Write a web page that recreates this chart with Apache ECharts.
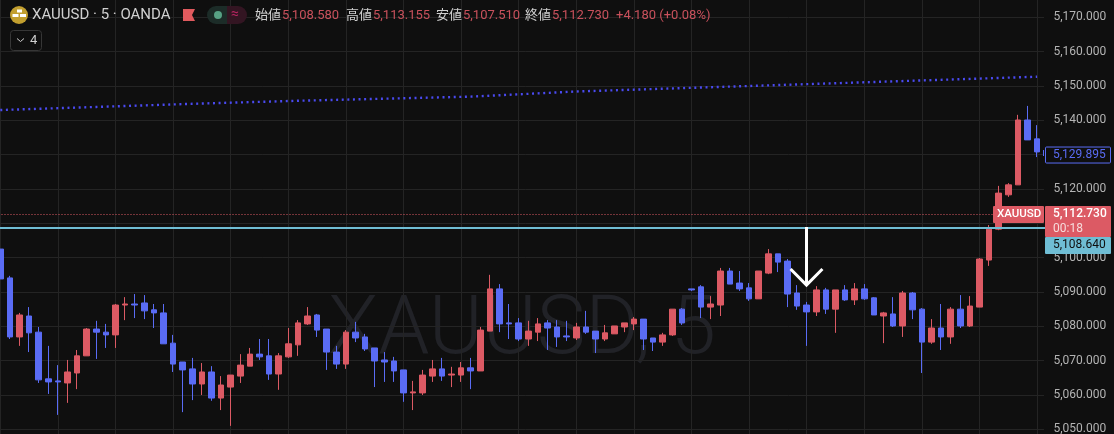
<!DOCTYPE html>
<html><head><meta charset="utf-8">
<style>html,body{margin:0;padding:0;background:#0f0f0f}#c{width:1114px;height:434px}</style>
<script src="https://cdn.jsdelivr.net/npm/echarts@6/dist/echarts.min.js"></script>
</head><body><div id="c"></div>
<script>
const opens=[5102.5,5094.1,5076.9,5083.0,5078.3,5064.7,5064.1,5063.5,5066.4,5071.4,5079.2,5078.3,5077.5,5086.2,5086.5,5086.8,5084.8,5083.9,5075.1,5069.6,5067.6,5063.2,5066.7,5059.1,5062.3,5065.5,5068.4,5071.9,5071.4,5066.1,5071.1,5074.6,5080.7,5083.3,5079.2,5072.5,5069.0,5078.3,5076.9,5073.7,5070.2,5069.9,5067.3,5060.6,5060.6,5065.5,5067.6,5065.8,5065.8,5067.9,5067.0,5078.6,5090.9,5081.0,5081.0,5076.3,5078.3,5081.0,5079.8,5077.2,5076.6,5079.8,5078.6,5076.3,5077.8,5079.8,5080.7,5082.1,5076.6,5075.4,5077.5,5085.0,5090.9,5091.5,5085.6,5086.2,5096.1,5092.6,5091.2,5088.0,5095.5,5101.1,5099.0,5089.7,5086.2,5084.2,5090.6,5085.0,5090.6,5087.7,5090.9,5088.3,5083.0,5083.6,5080.1,5089.7,5085.0,5075.4,5079.5,5076.9,5085.0,5080.1,5085.6,5099.3,5108.3,5118.3,5121.2,5140.1,5134.6];
const closes=[5093.8,5076.9,5083.3,5078.1,5064.4,5063.8,5063.8,5066.7,5071.4,5079.2,5078.3,5077.5,5086.2,5086.5,5086.2,5084.5,5083.9,5074.9,5069.0,5067.3,5063.2,5066.7,5059.1,5062.9,5065.8,5068.7,5071.9,5071.1,5066.1,5071.4,5074.9,5081.0,5083.0,5078.9,5072.5,5069.0,5078.3,5076.6,5073.4,5069.9,5069.6,5067.0,5060.6,5060.9,5065.8,5067.6,5065.5,5066.1,5067.9,5067.0,5078.9,5090.9,5080.7,5080.7,5076.3,5078.6,5080.7,5079.5,5076.9,5076.9,5079.8,5078.3,5076.3,5078.1,5080.1,5081.0,5082.1,5076.3,5075.4,5077.5,5085.0,5081.0,5090.6,5085.6,5086.5,5096.1,5092.3,5090.9,5088.0,5096.1,5101.1,5098.7,5089.4,5085.9,5084.2,5090.6,5085.0,5090.6,5087.7,5090.9,5088.0,5083.3,5083.9,5080.1,5089.7,5084.8,5075.4,5079.5,5076.9,5085.0,5080.1,5085.9,5099.6,5108.3,5118.8,5121.2,5140.1,5134.3,5130.8];
const highs=[5102.5,5094.7,5083.9,5085.6,5079.8,5074.3,5068.7,5070.2,5073.1,5079.5,5081.6,5080.7,5086.5,5088.5,5089.4,5089.1,5086.5,5086.5,5077.5,5069.6,5070.8,5069.3,5068.4,5065.5,5065.8,5071.9,5073.7,5076.3,5076.3,5072.2,5079.5,5081.8,5085.6,5083.6,5079.2,5074.3,5078.9,5081.3,5077.8,5073.7,5072.5,5071.1,5067.3,5064.1,5067.3,5070.2,5070.8,5068.2,5069.6,5070.8,5079.8,5095.0,5092.3,5086.5,5082.4,5081.6,5082.4,5081.8,5081.8,5081.6,5081.0,5084.5,5078.6,5080.4,5080.1,5081.0,5082.7,5082.1,5076.6,5078.1,5085.0,5085.3,5090.9,5092.0,5088.8,5097.0,5097.0,5096.1,5092.6,5096.1,5102.5,5101.1,5099.6,5092.0,5087.1,5091.7,5091.2,5090.6,5092.0,5092.6,5092.3,5088.5,5084.2,5088.5,5090.3,5090.0,5085.3,5082.1,5086.5,5085.6,5089.1,5088.8,5099.9,5109.5,5120.9,5121.7,5141.6,5144.2,5138.6];
const lows=[5093.8,5076.3,5074.3,5072.5,5063.5,5060.3,5054.2,5057.7,5061.7,5071.4,5070.5,5073.7,5073.7,5081.8,5082.4,5082.1,5079.5,5074.9,5066.7,5055.0,5058.5,5060.0,5058.3,5055.6,5051.0,5063.5,5068.4,5070.2,5064.4,5061.5,5070.8,5071.4,5080.4,5076.9,5067.3,5067.6,5067.6,5075.4,5072.8,5062.3,5063.8,5063.8,5058.0,5055.6,5060.0,5063.8,5064.1,5062.3,5063.8,5061.7,5067.0,5078.6,5078.3,5076.3,5075.7,5074.3,5075.7,5073.1,5074.0,5075.7,5076.0,5077.8,5072.2,5075.7,5077.8,5078.3,5078.9,5073.1,5072.8,5074.3,5077.2,5080.4,5090.3,5082.4,5082.1,5083.0,5092.3,5090.3,5087.4,5088.0,5095.2,5095.8,5085.6,5084.8,5074.3,5083.0,5083.6,5078.1,5087.4,5086.2,5087.7,5083.3,5075.1,5079.8,5076.9,5082.1,5066.4,5074.9,5073.1,5074.9,5079.5,5079.8,5085.6,5097.6,5108.0,5117.7,5121.2,5134.3,5129.3];
const barIndex=[...opens.map((_,i)=>String(i)),''];
const dottedBars=[0,10,21,31,49,60,78,108];
const dottedValues=[5143.0,5143.9,5144.9,5145.7,5146.9,5148.4,5150.0,5152.7];
const lastPrice=5112.73, levelPrice=5108.64, maPrice=5129.895;
const arrowBar=84, arrowTip=5092.0, arrowHeadBack=5096.7;
const headerValues=['5,108.580','5,113.155','5,107.510','5,112.730'];
const headerNames=['始値','高値','安値','終値'];

const BG='#0f0f0f',GRID='#242424',RED='#dc5a64',BLUE='#5a6cf5',CYAN='#6fbdd4',TXT='#b4b4b4',HEAD='#d0d0d0',VAL='#c9515c';
const SANS='Roboto, "Noto Sans CJK JP", sans-serif';
const BAR=9.6, LEFT=0.3-BAR/2;
const PPU=34.33/10, Y5050=429.3;
const fmt=v=>v.toFixed(3).replace(/\B(?=(\d{3})(?!\d))(?=.*\.)/,',');

const txt=(text,x,y,fill,size,extra)=>Object.assign({type:'text',x:x,y:y,z:30,silent:true,
  style:{text:text,fill:fill,font:`${size}px ${SANS}`,textVerticalAlign:'middle',verticalAlign:'middle'}},extra||{});
const headerEls=[
 {type:'rect',z:5,silent:true,shape:{x:1044,y:0,width:70,height:434},style:{fill:BG}},
 {type:'circle',z:30,silent:true,shape:{cx:19,cy:15,r:9},style:{fill:'#c29f2f'}},
 {type:'rect',z:31,silent:true,shape:{x:17,y:9.5,width:5,height:3},style:{fill:'#fff'}},
 {type:'rect',z:31,silent:true,shape:{x:12.5,y:14,width:6,height:3},style:{fill:'#fff'}},
 {type:'rect',z:31,silent:true,shape:{x:20,y:14,width:6,height:3},style:{fill:'#fff'}},
 txt('XAUUSD · 5 · OANDA',32,15.5,HEAD,15),
 {type:'polygon',z:30,silent:true,shape:{points:[[183,9],[195,9],[192,15],[195,21],[183,21]]},style:{fill:'#e05a5e'}},
 {type:'rect',z:30,silent:true,shape:{x:207,y:6,width:20,height:18,r:[9,0,0,9]},style:{fill:'#1c2c28'}},
 {type:'rect',z:30,silent:true,shape:{x:227,y:6,width:20,height:18,r:[0,9,9,0]},style:{fill:'#331522'}},
 {type:'circle',z:31,silent:true,shape:{cx:218,cy:15,r:4},style:{fill:'#57a184'}},
 txt('≈',231,14.5,'#b3245f',14),
 {type:'rect',z:30,silent:true,shape:{x:10.5,y:30.5,width:31,height:20,r:3},style:{fill:BG,stroke:'#363636',lineWidth:1}},
 {type:'polyline',z:31,silent:true,shape:{points:[[17,38.5],[20.5,41.5],[24,38.5]]},style:{fill:null,stroke:'#cfcfcf',lineWidth:1}},
 txt('4',30,41,HEAD,13),
 {type:'text',z:-1,x:328,y:332,silent:true,style:{text:'XAUUSD, 5',fill:'#212227',font:'300 82px Roboto, sans-serif',textVerticalAlign:'middle',verticalAlign:'middle'}}
];
[255,346,436,525].forEach((x,i)=>{
  headerEls.push(txt(headerNames[i],x,15.5,HEAD,13));
  headerEls.push(txt(headerValues[i],x+27,15.5,VAL,13));
});
headerEls.push(txt('+4.180 (+0.08%)',616,15.5,VAL,13));

// right-hand price tags: anchored to the y scale, fixed to the axis panel in x
function tag(value,draw){
  return {type:'custom',z:20,silent:true,data:[[0,value]],clip:false,
    renderItem:(p,api)=>{const y=api.coord([0,api.value(1)])[1];return {type:'group',children:draw(y)};}};
}
const rect=(x,y,w,h,fill,stroke)=>({type:'rect',z2:1,shape:{x,y,width:w,height:h,r:1},style:{fill,stroke:stroke||null,lineWidth:1}});
const t=(s,x,y,fill,size,weight)=>({type:'text',z2:2,style:{text:s,x,y,fill,font:`${weight||'normal'} ${size}px ${SANS}`,textVerticalAlign:'middle',verticalAlign:'middle'}});

const option={
 animation:false,backgroundColor:BG,
 graphic:{elements:headerEls},
 grid:{left:LEFT,width:BAR*barIndex.length,top:Y5050-130*PPU,height:140*PPU,containLabel:false,outerBoundsMode:'none'},
 xAxis:{type:'category',data:barIndex,boundaryGap:true,
   axisLine:{show:false},axisTick:{show:false},axisLabel:{show:false},
   splitLine:{show:true,interval:5,alignWithLabel:true,lineStyle:{color:GRID,width:1}}},
 yAxis:[
  {type:'value',min:5040,max:5180,interval:10,position:'right',z:0,scale:true,
   axisLine:{show:false},axisTick:{show:false},axisLabel:{show:false},
   splitLine:{show:true,lineStyle:{color:GRID,width:1}}},
  {type:'value',min:5040,max:5180,interval:10,position:'right',z:10,scale:true,
   axisLine:{show:false},axisTick:{show:false},splitLine:{show:false},
   axisLabel:{show:true,margin:1.9,color:TXT,fontFamily:'Roboto',fontSize:12,formatter:v=>fmt(v)}}
 ],
 series:[
  {type:'candlestick',z:3,barWidth:6,silent:true,
   data:opens.map((o,i)=>[o,closes[i],lows[i],highs[i]]),
   itemStyle:{color:RED,color0:BLUE,borderColor:RED,borderColor0:BLUE,borderWidth:1}},
  {type:'line',z:4,silent:true,showSymbol:false,symbol:'none',
   data:dottedBars.map((b,i)=>[b,dottedValues[i]]),
   lineStyle:{color:'#4a4af0',width:2.4,type:[2,3.6]}},
  {type:'line',z:4,silent:true,showSymbol:false,symbol:'none',data:[],
   markLine:{silent:true,symbol:'none',label:{show:false},animation:false,data:[
     {yAxis:lastPrice,lineStyle:{color:RED,width:1,type:[1,2]}},
     {yAxis:levelPrice,lineStyle:{color:CYAN,width:2,type:'solid'}}
   ]}},
  {type:'custom',z:6,silent:true,clip:false,data:[[arrowBar,levelPrice,arrowTip,arrowHeadBack]],
   renderItem:(p,api)=>{
     const b=api.value(0),top=api.coord([b,api.value(1)]),tip=api.coord([b,api.value(2)]),back=api.coord([b,api.value(3)]);
     const spread=api.size([1,0])[0]*1.66;
     const st={fill:null,stroke:'#ffffff',lineWidth:3};
     return {type:'group',children:[
       {type:'line',shape:{x1:top[0]-0.2,y1:top[1]-1,x2:tip[0]-0.2,y2:tip[1]},style:st},
       {type:'polyline',shape:{points:[[tip[0]-0.2-spread,back[1]],[tip[0]-0.2,tip[1]],[tip[0]-0.2+spread,back[1]]]},style:st}
     ]};
   }},
  tag(lastPrice,y=>[
    rect(993,y-8,51,17,RED),
    t('XAUUSD',997,y+0.5,'#ffffff',11.5,'500'),
    rect(1045,y-8,66,31,RED),
    t(fmt(lastPrice),1053,y+0.5,'#ffffff',12,'500'),
    t('00:18',1053,y+15,'#f6dcdc',12)
  ]),
  tag(levelPrice,y=>[
    rect(1045,y+9,66,17,CYAN),
    t(fmt(levelPrice),1053,y+17.5,'#0f0f0f',12)
  ]),
  tag(maPrice,y=>[
    rect(1045.5,y-8,65,16,BG,BLUE),
    t(fmt(maPrice),1053,y,BLUE,12),
    {type:'line',shape:{x1:1043.5,y1:y-5,x2:1043.5,y2:y+1},style:{stroke:BLUE,lineWidth:1}}
  ])
 ]
};
echarts.init(document.getElementById('c'),null,{renderer:'canvas'}).setOption(option);
</script></body></html>
